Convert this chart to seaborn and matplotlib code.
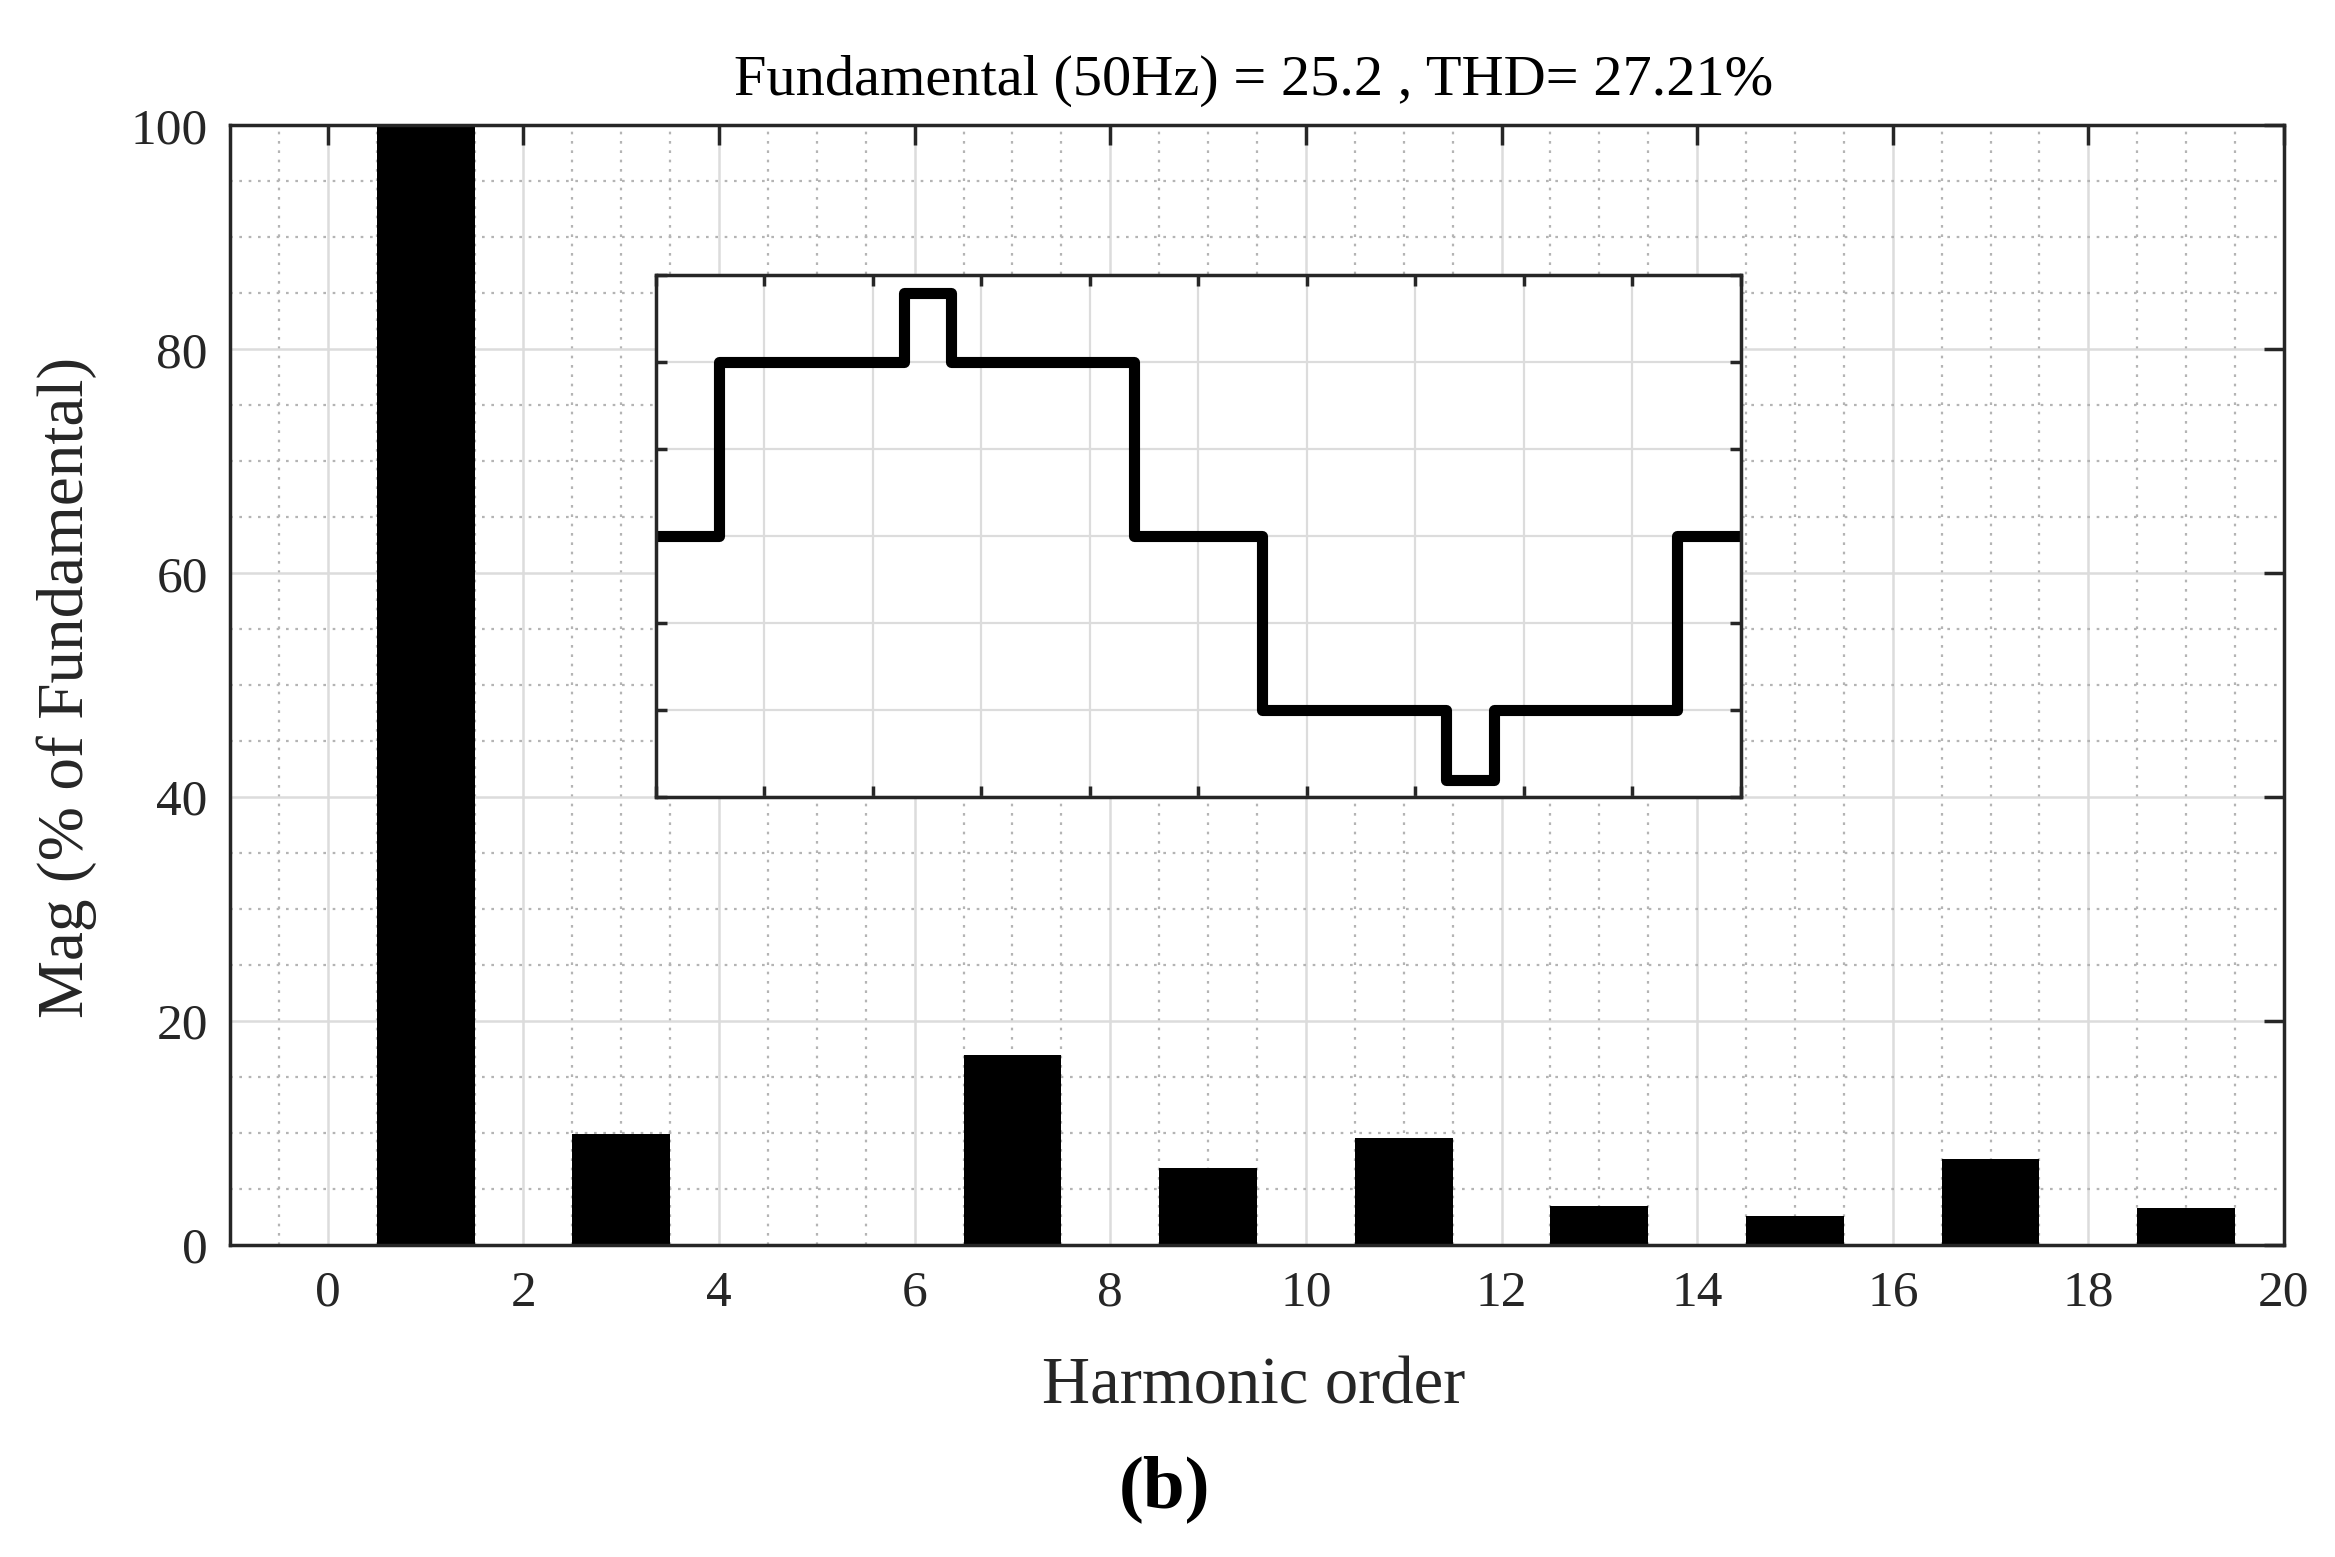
import numpy as np
import pandas as pd
import matplotlib
matplotlib.use("Agg")
import matplotlib.pyplot as plt
import seaborn as sns
from matplotlib.ticker import MultipleLocator, NullFormatter

# ---------------- data ----------------
harmonic_order = list(range(0, 20))
magnitude_pct = [0, 100, 0, 9.9, 0, 0, 0, 17.0, 0, 6.9,
                 0, 9.55, 0, 3.5, 0, 2.6, 0, 7.65, 0, 3.3]

# inset: staircase output voltage over one 50 Hz period (ms, arbitrary level units)
inset_time_ms = [0, 1.16, 4.57, 5.45, 8.82, 11.17, 14.56, 15.45, 18.83, 20]
inset_level = [0, 100, 140, 100, 0, -100, -140, -100, 0, 0]

x_ticks = list(range(0, 21, 2))
y_ticks = list(range(0, 101, 20))

title_text = "Fundamental (50Hz) = 25.2 , THD= 27.21%"
x_label = "Harmonic order"
y_label = "Mag (% of Fundamental)"
panel_label = "(b)"

# ---------------- style ----------------
sns.set_theme(style="white")
plt.rcParams["font.family"] = ["Liberation Serif", "DejaVu Serif"]
FG = "#262626"

W, H, DPI = 2335, 1557, 200
fig = plt.figure(figsize=(W / DPI, H / DPI), dpi=DPI)
fig.patch.set_facecolor("white")

ax_left, ax_right, ax_top, ax_bottom = 230, 2284, 125.5, 1245
ax = fig.add_axes([ax_left / W, 1 - ax_bottom / H,
                   (ax_right - ax_left) / W, (ax_bottom - ax_top) / H])
ax.set_facecolor("white")

df = pd.DataFrame({"order": harmonic_order, "mag": magnitude_pct})
sns.barplot(data=df, x="order", y="mag", native_scale=True, width=1.0,
            color="black", saturation=1, linewidth=0, errorbar=None, ax=ax)

ax.set_xlim(-1, 20)
ax.set_ylim(0, 100)
ax.set_xticks(x_ticks)
ax.set_xticklabels([str(t) for t in x_ticks])
ax.set_yticks(y_ticks)
ax.set_yticklabels([str(t) for t in y_ticks])
ax.xaxis.set_minor_locator(MultipleLocator(0.5))
ax.yaxis.set_minor_locator(MultipleLocator(5))
ax.set_axisbelow(True)
ax.grid(which="major", color="#dcdcdc", lw=0.9, ls="-")
ax.grid(which="minor", color="#b4b4b4", lw=0.8, ls=(0, (1.2, 3)))
ax.tick_params(which="major", direction="in", length=7.2, width=1.25,
               color=FG, top=True, right=True, labelsize=18.5,
               labelcolor=FG)
ax.tick_params(axis="x", which="major", pad=9)
ax.tick_params(axis="y", which="major", pad=8)
ax.tick_params(which="minor", length=0, top=True, right=True)
for s in ax.spines.values():
    s.set_visible(True)
    s.set_color(FG)
    s.set_linewidth(1.25)
ax.set_xlabel("")
ax.set_ylabel("")

# ---------------- inset ----------------
axin = ax.inset_axes([0.2072, 0.4, 0.5283, 0.4663])
axin.set_facecolor("white")
sns.lineplot(x=inset_time_ms, y=inset_level, drawstyle="steps-post",
             color="black", lw=4, ax=axin)
axin.set_xlim(0, 20)
axin.set_ylim(-150, 150)
axin.xaxis.set_major_locator(MultipleLocator(2))
axin.yaxis.set_major_locator(MultipleLocator(50))
axin.xaxis.set_major_formatter(NullFormatter())
axin.yaxis.set_major_formatter(NullFormatter())
axin.set_axisbelow(True)
axin.grid(which="major", color="#dcdcdc", lw=0.8, ls="-")
axin.tick_params(which="major", direction="in", length=4, width=1.25,
                 color=FG, top=True, right=True, left=True, bottom=True)
for s in axin.spines.values():
    s.set_visible(True)
    s.set_color(FG)
    s.set_linewidth(1.25)
axin.set_xlabel("")
axin.set_ylabel("")

# ---------------- texts ----------------
fig.text(1254 / W, 1 - 95 / H, title_text, ha="center", va="baseline",
         fontsize=21, color="black")
fig.text(1254 / W, 1 - 1403 / H, x_label, ha="center", va="baseline",
         fontsize=24, color=FG)
fig.text(83 / W, 1 - 687 / H, y_label, ha="center", va="baseline",
         rotation=90, rotation_mode="anchor", fontsize=23.5, color=FG)
fig.text(1165 / W, 1 - 1507 / H, panel_label, ha="center", va="baseline",
         fontsize=27, fontweight="bold", color="black")

fig.savefig("out.png", dpi=DPI, facecolor="white")
